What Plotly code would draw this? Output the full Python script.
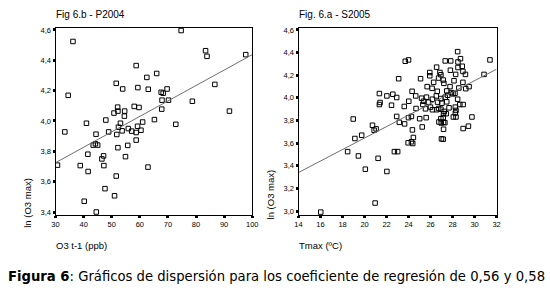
import plotly.graph_objects as go

# ---- Fig 6.b - P2004 : O3 t-1 (ppb) vs ln(O3 max)
p2004_x = [74.7, 36.2, 83.4, 83.9, 97.7, 58.7, 66.0, 62.5, 51.6, 86.7, 34.5, 53.9, 59.3, 63.0,
           67.6, 68.3, 69.7, 67.9, 70.2, 78.7, 91.9, 52.1, 58.0, 59.7, 50.8, 52.2, 54.6, 54.5,
           67.8, 47.9, 65.2, 41.0, 53.1, 61.0, 72.8, 33.3, 48.9, 52.4, 51.8, 53.7, 55.9, 57.1,
           59.2, 58.7, 60.4, 58.7, 44.4, 30.7, 43.4, 44.2, 45.0, 52.2, 55.7, 41.5, 47.1, 46.5,
           38.8, 47.2, 54.9, 41.6, 62.9, 51.6, 47.6, 51.0, 40.2, 44.5]
p2004_y = [4.596, 4.524, 4.463, 4.426, 4.437, 4.365, 4.313, 4.287, 4.248, 4.241, 4.169, 4.211,
           4.220, 4.209, 4.189, 4.183, 4.211, 4.137, 4.137, 4.130, 4.065, 4.091, 4.096, 4.089,
           4.052, 4.065, 4.065, 4.032, 4.078, 4.006, 4.009, 3.985, 3.985, 3.993, 3.978, 3.928,
           3.928, 3.959, 3.911, 3.935, 3.950, 3.933, 3.965, 3.924, 3.939, 3.874, 3.913, 3.709,
           3.841, 3.850, 3.841, 3.824, 3.839, 3.781, 3.770, 3.750, 3.706, 3.706, 3.765, 3.667,
           3.696, 3.637, 3.554, 3.507, 3.471, 3.400]
p2004_fit_x = [30, 100]
p2004_fit_y = [3.725, 4.437]

# ---- Fig. 6.a - S2005 : Tmax (ºC) vs ln(O3 max)
s2005_x = [31.40, 28.46, 28.72, 27.33, 27.83, 28.49, 23.70, 24.00, 26.55, 28.49, 28.88, 27.80,
           25.93, 26.85, 28.94, 28.28, 29.17, 30.86, 23.10, 25.09, 25.93, 26.94, 26.73, 27.15,
           27.21, 26.28, 28.13, 28.94, 25.69, 26.14, 29.50, 29.20, 27.77, 28.57, 24.32, 26.61,
           27.47, 27.89, 28.22, 21.35, 22.03, 22.57, 22.92, 24.65, 25.18, 25.36, 25.63, 26.17,
           26.52, 26.94, 27.33, 27.56, 28.04, 28.46, 26.64, 25.81, 27.03, 27.47, 28.66, 28.96,
           21.35, 21.41, 22.45, 23.61, 24.02, 24.68, 25.30, 25.54, 25.99, 26.17, 26.55, 26.73,
           26.94, 27.24, 27.68, 28.25, 28.31, 27.18, 27.42, 28.25, 24.26, 25.01, 25.60, 26.94,
           27.15, 28.07, 28.31, 29.76, 26.76, 26.97, 27.18, 27.30, 23.16, 23.64, 22.92, 23.99,
           18.97, 20.72, 20.87, 21.05, 24.35, 25.24, 27.18, 28.96, 29.44, 19.12, 19.74, 24.44,
           26.99, 27.15, 18.46, 19.44, 22.71, 23.01, 21.23, 23.96, 24.26, 24.38, 20.07, 22.03,
           20.96, 16.02]
s2005_y = [4.335, 4.408, 4.346, 4.326, 4.326, 4.317, 4.323, 4.335, 4.271, 4.268, 4.279, 4.244,
           4.224, 4.224, 4.233, 4.207, 4.207, 4.207, 4.169, 4.169, 4.195, 4.204, 4.175, 4.157,
           4.128, 4.137, 4.151, 4.137, 4.099, 4.084, 4.099, 4.081, 4.099, 4.087, 4.058, 4.058,
           4.061, 4.046, 4.040, 4.038, 4.017, 4.032, 4.003, 4.017, 3.997, 3.970, 4.006, 3.988,
           4.017, 3.994, 4.006, 4.023, 4.035, 3.988, 3.962, 3.962, 3.953, 3.965, 3.941, 3.941,
           3.941, 3.959, 3.935, 3.924, 3.970, 3.906, 3.941, 3.903, 3.918, 3.895, 3.895, 3.906,
           3.900, 3.880, 3.912, 3.918, 3.889, 3.860, 3.860, 3.866, 3.836, 3.816, 3.825, 3.816,
           3.825, 3.831, 3.831, 3.831, 3.787, 3.778, 3.784, 3.781, 3.784, 3.770, 3.836, 3.825,
           3.813, 3.758, 3.714, 3.726, 3.717, 3.743, 3.723, 3.729, 3.750, 3.641, 3.670, 3.650,
           3.638, 3.635, 3.525, 3.487, 3.525, 3.525, 3.466, 3.603, 3.612, 3.597, 3.370, 3.350,
           3.071, 2.991]
s2005_fit_x = [14, 32]
s2005_fit_y = [3.341, 4.253]

left_ticks_x = [30, 40, 50, 60, 70, 80, 90, 100]
left_ticks_y = [3.4, 3.6, 3.8, 4.0, 4.2, 4.4, 4.6]
right_ticks_x = [14, 16, 18, 20, 22, 24, 26, 28, 30, 32]
right_ticks_y = [3.0, 3.2, 3.4, 3.6, 3.8, 4.0, 4.2, 4.4, 4.6]

W, H = 550, 293
def px(x):
    return x / W
def py(y):
    return 1 - y / H

FONT = "Liberation Sans, Arial, sans-serif"
marker = dict(symbol="square-open", size=4.5, color="black", line=dict(width=1, color="black"))
fitline = dict(color="#6e6e6e", width=1)

fig = go.Figure()
fig.add_trace(go.Scatter(x=p2004_x, y=p2004_y, mode="markers", marker=marker,
                         xaxis="x", yaxis="y", showlegend=False, hoverinfo="skip"))
fig.add_trace(go.Scatter(x=p2004_fit_x, y=p2004_fit_y, mode="lines", line=fitline,
                         xaxis="x", yaxis="y", showlegend=False, hoverinfo="skip"))
fig.add_trace(go.Scatter(x=s2005_x, y=s2005_y, mode="markers", marker=marker,
                         xaxis="x2", yaxis="y2", showlegend=False, hoverinfo="skip"))
fig.add_trace(go.Scatter(x=s2005_fit_x, y=s2005_fit_y, mode="lines", line=fitline,
                         xaxis="x2", yaxis="y2", showlegend=False, hoverinfo="skip"))

ax_common = dict(showline=True, linecolor="black", linewidth=1, mirror=True,
                 showgrid=False, zeroline=False, ticks="outside", ticklen=2, tickwidth=3,
                 tickcolor="black", tickfont=dict(family=FONT, size=7.5, color="black"),
                 fixedrange=True)
ydom = [py(216), py(26)]
fig.update_layout(
    width=W, height=H, margin=dict(l=0, r=0, t=0, b=0),
    paper_bgcolor="white", plot_bgcolor="white", separators=",.",
    xaxis=dict(domain=[px(52.5), px(252.8)], range=[30, 100], tickvals=left_ticks_x,
               anchor="y", **ax_common),
    yaxis=dict(domain=ydom, range=[3.38, 4.615], tickvals=left_ticks_y, tickformat=".1f",
               anchor="x", **ax_common),
    xaxis2=dict(domain=[px(300), px(501.7)], range=[14, 32], tickvals=right_ticks_x,
                anchor="y2", **ax_common),
    yaxis2=dict(domain=ydom, range=[2.965, 4.62], tickvals=right_ticks_y, tickformat=".1f",
                anchor="x2", **ax_common),
)

def ann(text, x, y, size, xanchor="left", angle=0, family=FONT):
    fig.add_annotation(text=text, x=px(x), y=py(y), xref="paper", yref="paper",
                       xanchor=xanchor, yanchor="middle", showarrow=False, textangle=angle,
                       font=dict(family=family, size=size, color="black"))

ann("Fig 6.b - P2004", 51, 13, 10)
ann("Fig. 6.a - S2005", 298, 13, 10)
ann("O3 t-1 (ppb)", 51, 247, 9.5)
ann("Tmax (ºC)", 298, 247, 9.5)
ann("ln (O3 max)", 24, 204, 9.5, xanchor="center", angle=-90)
ann("ln (O3 max)", 271, 195, 9.5, xanchor="center", angle=-90)
ann("<b>Figura 6</b>: Gráficos de dispersión para los coeficiente de regresión de 0,56 y 0,58",
    2, 278, 13.2, family="DejaVu Sans, sans-serif")

fig.write_html("out.html", config={"displayModeBar": False},
               post_script="document.body.style.margin='0';document.body.style.overflow='hidden';")
